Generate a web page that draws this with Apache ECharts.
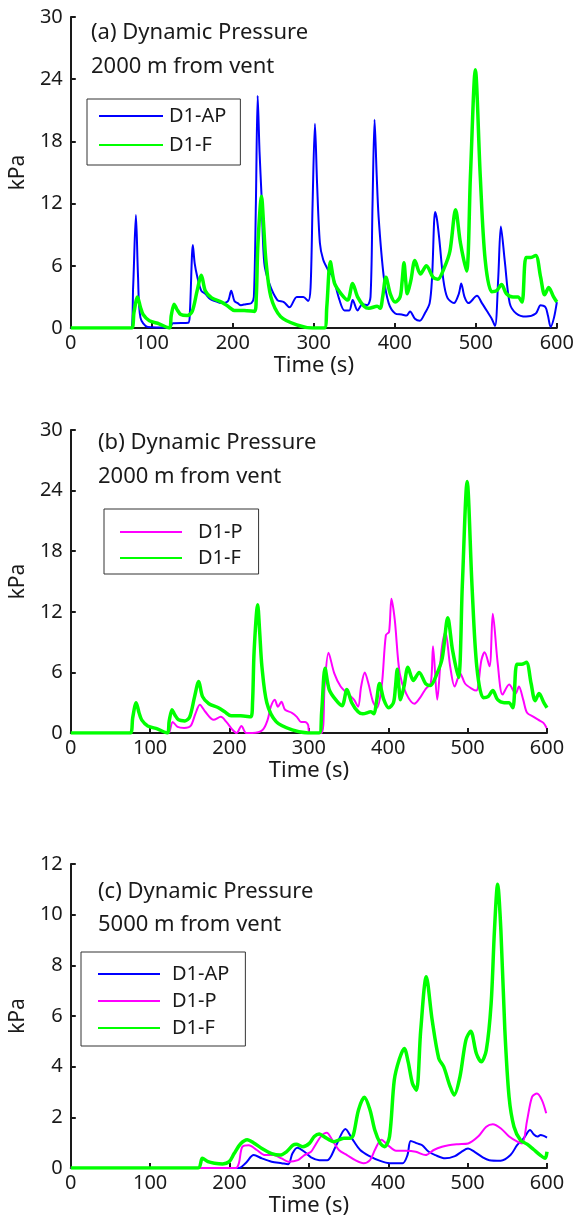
<!DOCTYPE html>
<html>
<head>
<meta charset="utf-8">
<script src="https://cdn.jsdelivr.net/npm/echarts@6/dist/echarts.min.js"></script>
<style>
html,body{margin:0;padding:0;background:#fff;}
#chart{width:577px;height:1229px;}
</style>
</head>
<body>
<div id="chart"></div>
<script>
// ---------- Data (time in s, dynamic pressure in kPa) ----------
// Panel (a)/(b): 2000 m from vent
var tAP2000 = [0, 74, 77, 80.4, 83, 86, 95, 122, 126, 145, 147, 150.7, 153, 156, 161, 166, 172, 178, 186, 194, 198, 202, 206, 210, 216, 223, 226, 228.5, 230.7, 233, 235.5, 238.8, 245, 255, 263, 270, 279, 287, 293, 296, 298.5, 301.4, 304, 307.5, 311.5, 317.6, 323.6, 331.7, 337.8, 343.8, 348, 354, 360, 366, 370, 372.5, 375, 377.5, 380, 386.4, 392.4, 400.5, 408.5, 414.5, 418.8, 424.8, 430.9, 437, 443, 446, 449.7, 452, 455, 460, 465, 473, 479, 482, 486, 491, 501.4, 507.5, 515.6, 519.6, 523.7, 527.7, 530.9, 535.8, 541.8, 549.9, 562, 574, 580, 586, 589, 592.4, 596.5, 600];
var vAP2000 = [0, 0, 4, 10.9, 5, 1.0, 0.1, 0.05, 0.45, 0.5, 1.5, 8.0, 6.2, 5.0, 3.6, 3.3, 2.8, 2.6, 2.4, 2.6, 3.6, 2.6, 2.4, 2.2, 2.3, 2.4, 3.0, 12, 22.4, 17, 12.7, 6.3, 4.3, 2.7, 2.5, 2.0, 3.0, 3.0, 2.6, 3.9, 12, 19.7, 14, 8.2, 6.6, 5.6, 4.9, 2.7, 1.7, 1.7, 2.7, 1.7, 2.3, 2.2, 3.0, 12, 20.1, 15, 10.7, 4.9, 2.4, 1.4, 1.3, 1.2, 1.6, 0.9, 0.7, 1.4, 2.4, 4.9, 11.2, 10.5, 8.5, 4.6, 2.9, 2.4, 3.3, 4.3, 3.0, 2.4, 3.1, 2.4, 1.4, 0.9, 0.2, 4.9, 9.8, 6.4, 2.4, 1.4, 1.1, 1.4, 2.2, 2.0, 1.2, 0.1, 1.0, 2.5];

var tF2000 = [0, 75, 78, 82.4, 86, 89.3, 97, 109, 121.6, 124, 127.6, 131, 135.8, 143.8, 149.9, 156, 161.2, 166, 174, 186, 194, 202, 214, 226.7, 229, 231, 235.5, 238, 240.8, 247, 259, 279, 299, 313, 316, 320.4, 325.6, 333.7, 341.8, 347.9, 354, 362, 368, 378.2, 382, 385, 389, 394.4, 400.5, 406.5, 409, 411.3, 413.5, 415.4, 419.8, 424.8, 431.6, 439, 447, 453, 461, 468, 475, 481, 488.5, 493.3, 499.4, 505.5, 511.5, 519.6, 525.7, 531.7, 537.8, 545.9, 552, 557, 562, 568, 574, 580, 585, 590, 596, 600];
var vF2000 = [0, 0, 1.5, 3.0, 2.0, 1.3, 0.7, 0.4, 0.0, 1.2, 2.3, 1.8, 1.3, 1.2, 1.6, 3.6, 5.1, 3.6, 2.9, 2.5, 2.1, 1.7, 1.7, 1.6, 3.0, 8.1, 12.7, 10, 6.6, 3.0, 1.1, 0.3, 0.0, 0.0, 2.0, 6.4, 4.3, 3.3, 2.7, 4.3, 3.0, 2.1, 1.9, 2.1, 1.9, 3.0, 4.9, 3.3, 2.5, 3.0, 4.5, 6.3, 4.5, 3.3, 4.6, 6.5, 5.2, 6.0, 4.9, 4.7, 5.8, 7.4, 11.4, 8.2, 5.5, 14.6, 24.9, 14.6, 6.6, 3.5, 3.6, 4.2, 3.3, 3.0, 3.0, 2.5, 6.8, 6.8, 7.0, 4.9, 3.2, 3.9, 3.0, 2.5];

var tP2000 = [122, 124.3, 128.4, 134.6, 142.8, 151, 157, 162.6, 169.5, 180, 189, 196, 204, 209, 215, 221, 229, 241.6, 248, 252, 257, 261, 265.4, 270, 278.6, 284.8, 290, 295, 299, 301, 315.7, 319.8, 324.7, 332, 340, 348.6, 356.8, 362, 365.8, 370.4, 375, 380.7, 385.6, 391.7, 397, 401, 404, 408.2, 414.4, 422.6, 432.9, 441, 447.4, 453.6, 456.4, 461.7, 467, 472, 478, 483.6, 490.6, 496.7, 505, 511, 517.3, 521.4, 527.6, 531.7, 537.9, 544, 552.3, 560.5, 564.6, 570, 574.9, 583.1, 589.3, 595.5, 599.5];
var vP2000 = [0, 0.1, 1.1, 0.6, 0.5, 0.7, 1.9, 2.8, 2.1, 1.3, 1.6, 1.1, 0.3, 0.0, 0.7, 0.0, 0.0, 0.3, 1.3, 2.6, 3.3, 2.6, 3.1, 2.3, 2.0, 1.6, 1.1, 1.1, 0.8, 0.0, 0.0, 4.6, 7.95, 5.9, 4.6, 3.9, 3.3, 2.6, 4.6, 6.0, 4.9, 3.1, 2.5, 4.6, 9.7, 10.0, 13.3, 11.2, 5.9, 3.9, 2.9, 3.6, 4.4, 4.9, 8.6, 3.3, 8.1, 10.0, 6.6, 4.6, 5.9, 4.9, 4.4, 4.2, 7.2, 8.0, 6.6, 11.8, 6.9, 3.8, 4.8, 3.9, 4.6, 3.3, 2.0, 1.6, 1.3, 1.0, 0.5];

// Panel (c): 5000 m from vent
var tAP5000 = [0, 212, 220.2, 230.5, 240.8, 253, 265.6, 274, 279.2, 285.4, 294.4, 302.7, 313, 323.3, 333.6, 346, 354.2, 364.6, 377, 389, 401.6, 418, 424.2, 428.3, 436.6, 442.8, 451, 459.2, 471.6, 484, 492.2, 500.5, 508.7, 519, 527.3, 541.7, 554, 562.3, 570.5, 578.8, 582.9, 587.8, 592, 600];
var vAP5000 = [0, 0, 0.19, 0.51, 0.38, 0.25, 0.19, 0.15, 0.57, 0.8, 0.64, 0.42, 0.31, 0.31, 0.84, 1.54, 1.17, 0.71, 0.46, 0.29, 0.19, 0.19, 0.51, 1.07, 0.97, 0.9, 0.64, 0.51, 0.38, 0.47, 0.64, 0.77, 0.64, 0.42, 0.31, 0.29, 0.51, 0.9, 1.17, 1.5, 1.34, 1.24, 1.3, 1.2];

var tP5000 = [0, 208, 211.9, 216, 224.3, 234.4, 244.9, 255.3, 265.6, 274, 286.2, 294.4, 302.7, 306.8, 315, 322.5, 329.5, 337.8, 348, 358.4, 368.7, 377, 383.1, 391.3, 399.6, 409.9, 422.3, 434.7, 447, 457.4, 467.7, 476, 488.3, 500.7, 513.2, 523.5, 531.7, 542, 552.3, 562.6, 568.8, 575, 581.2, 587.4, 593.6, 599];
var vP5000 = [0, 0, 0.2, 0.83, 0.9, 0.71, 0.51, 0.51, 0.38, 0.25, 0.31, 0.51, 0.64, 0.84, 1.24, 1.39, 1.1, 0.71, 0.51, 0.31, 0.19, 0.31, 0.71, 1.12, 0.9, 0.68, 0.68, 0.64, 0.51, 0.71, 0.84, 0.9, 0.94, 0.97, 1.24, 1.63, 1.73, 1.56, 1.24, 1.04, 0.97, 1.89, 2.81, 2.94, 2.68, 2.16];

var tF5000 = [0, 160.4, 165.8, 172.8, 181, 191.3, 199.6, 205.8, 214, 222.3, 230.5, 240.8, 253, 263.5, 271.7, 280, 284, 292.4, 300.6, 306.8, 313, 319, 331.6, 344, 352, 356, 362.5, 369.9, 377, 383, 390, 395.5, 401.6, 407.6, 414, 420.2, 425, 430.5, 435.5, 440.9, 447.9, 455.3, 463.6, 469.8, 478, 483, 490.3, 497.8, 503.9, 511, 517.2, 523.5, 529.6, 533.8, 537.8, 541.9, 546.9, 552.2, 558.4, 566.6, 574.9, 583.1, 591.4, 597.6, 600];
var vF5000 = [0, 0, 0.38, 0.25, 0.19, 0.16, 0.25, 0.57, 0.96, 1.12, 0.99, 0.77, 0.57, 0.51, 0.64, 0.9, 0.94, 0.84, 0.97, 1.24, 1.34, 1.24, 1.04, 1.17, 1.17, 1.3, 2.29, 2.79, 2.29, 1.5, 0.97, 0.84, 1.24, 3.47, 4.3, 4.72, 4.2, 3.34, 3.07, 5.44, 7.55, 5.84, 4.33, 4.0, 3.21, 2.88, 3.6, 5.05, 5.4, 4.52, 4.19, 4.65, 6.49, 9.38, 11.2, 9.38, 5.44, 2.81, 1.63, 1.1, 0.94, 0.73, 0.51, 0.38, 0.64];

var panelTitles = ['(a) Dynamic Pressure\n2000 m from vent', '(b) Dynamic Pressure\n2000 m from vent', '(c) Dynamic Pressure\n5000 m from vent'];
var yMax = [30, 30, 12];
var yStep = [6, 6, 2];
var xMax = 600, xStep = 100;

// ---------- Build ----------
function pairs(t, v) { return t.map(function (x, i) { return [x, v[i]]; }); }
var BLUE = '#0000ff', GREEN = '#00ff00', MAG = '#ff00ff', INK = '#1a1a1a';
var FONT = 'Noto Sans';

var grids = [
  {left: 63, top: 17, width: 495, height: 311},
  {left: 61, top: 430, width: 486, height: 303},
  {left: 62, top: 864, width: 485, height: 304}
];

function xAx(i) {
  return {
    type: 'value', gridIndex: i, min: 0, max: xMax, interval: xStep,
    name: 'Time (s)', nameLocation: 'middle', nameGap: 27,
    nameTextStyle: {fontFamily: FONT, fontSize: 22, color: INK},
    axisLine: {lineStyle: {color: INK, width: 2}},
    axisTick: {inside: true, length: 5, lineStyle: {color: INK, width: 2}},
    axisLabel: {fontFamily: FONT, fontSize: 20, color: INK, margin: 5},
    splitLine: {show: false}
  };
}
function yAx(i) {
  return {
    type: 'value', gridIndex: i, min: 0, max: yMax[i], interval: yStep[i],
    name: 'kPa', nameLocation: 'middle', nameGap: 38, nameRotate: 90,
    nameTextStyle: {fontFamily: FONT, fontSize: 21, color: INK},
    axisLine: {show: true, lineStyle: {color: INK, width: 2}},
    axisTick: {show: true, inside: true, length: 5, lineStyle: {color: INK, width: 2}},
    axisLabel: {fontFamily: FONT, fontSize: 20, color: INK, margin: 8},
    splitLine: {show: false}
  };
}
function ser(name, gi, t, v, color, width) {
  return {
    name: name, type: 'line', xAxisIndex: gi, yAxisIndex: gi,
    data: pairs(t, v), showSymbol: false, symbol: 'none',
    smooth: 0.3, lineStyle: {color: color, width: width}, itemStyle: {color: color},
    animation: false
  };
}
function leg(names, left, top, pad, gap, w, textPad) {
  return {
    data: names, orient: 'vertical', left: left, top: top, padding: pad,
    itemGap: gap, itemWidth: w, itemHeight: 14,
    borderColor: '#333', borderWidth: 1, backgroundColor: '#fff',
    itemStyle: {opacity: 0},
    textStyle: {fontFamily: FONT, fontSize: 20, color: INK, padding: textPad},
    selectedMode: false
  };
}
function ttl(text, left, top, lh) {
  return {text: text, left: left, top: top,
    textStyle: {fontFamily: FONT, fontSize: 22, fontWeight: 'normal', color: INK, lineHeight: lh}};
}

var option = {
  animation: false,
  backgroundColor: '#fff',
  title: [
    ttl(panelTitles[0], 86, 11, 34),
    ttl(panelTitles[1], 93, 421, 34),
    ttl(panelTitles[2], 93, 870, 33)
  ],
  legend: [
    leg(['D1-AP', 'D1-F'], 87, 99, [7, 14, 10, 11], 9, 64, [0, 0, 0, 1]),
    leg(['D1-P', 'D1-F'], 104, 509, [13, 16, 6, 15], 6, 62, [0, 0, 0, 11]),
    leg(['D1-AP', 'D1-P', 'D1-F'], 81, 952, [12, 16, 8, 16], 7, 62, [0, 0, 0, 7])
  ],
  grid: grids,
  xAxis: [xAx(0), xAx(1), xAx(2)],
  yAxis: [yAx(0), yAx(1), yAx(2)],
  series: [
    ser('D1-AP', 0, tAP2000, vAP2000, BLUE, 2),
    ser('D1-F', 0, tF2000, vF2000, GREEN, 3.5),
    ser('D1-P', 1, tP2000, vP2000, MAG, 2),
    ser('D1-F', 1, tF2000, vF2000, GREEN, 3.5),
    ser('D1-AP', 2, tAP5000, vAP5000, BLUE, 2),
    ser('D1-P', 2, tP5000, vP5000, MAG, 2),
    ser('D1-F', 2, tF5000, vF5000, GREEN, 3.5)
  ]
};

var chart = echarts.init(document.getElementById('chart'), null, {renderer: 'canvas'});
chart.setOption(option);
</script>
</body>
</html>
